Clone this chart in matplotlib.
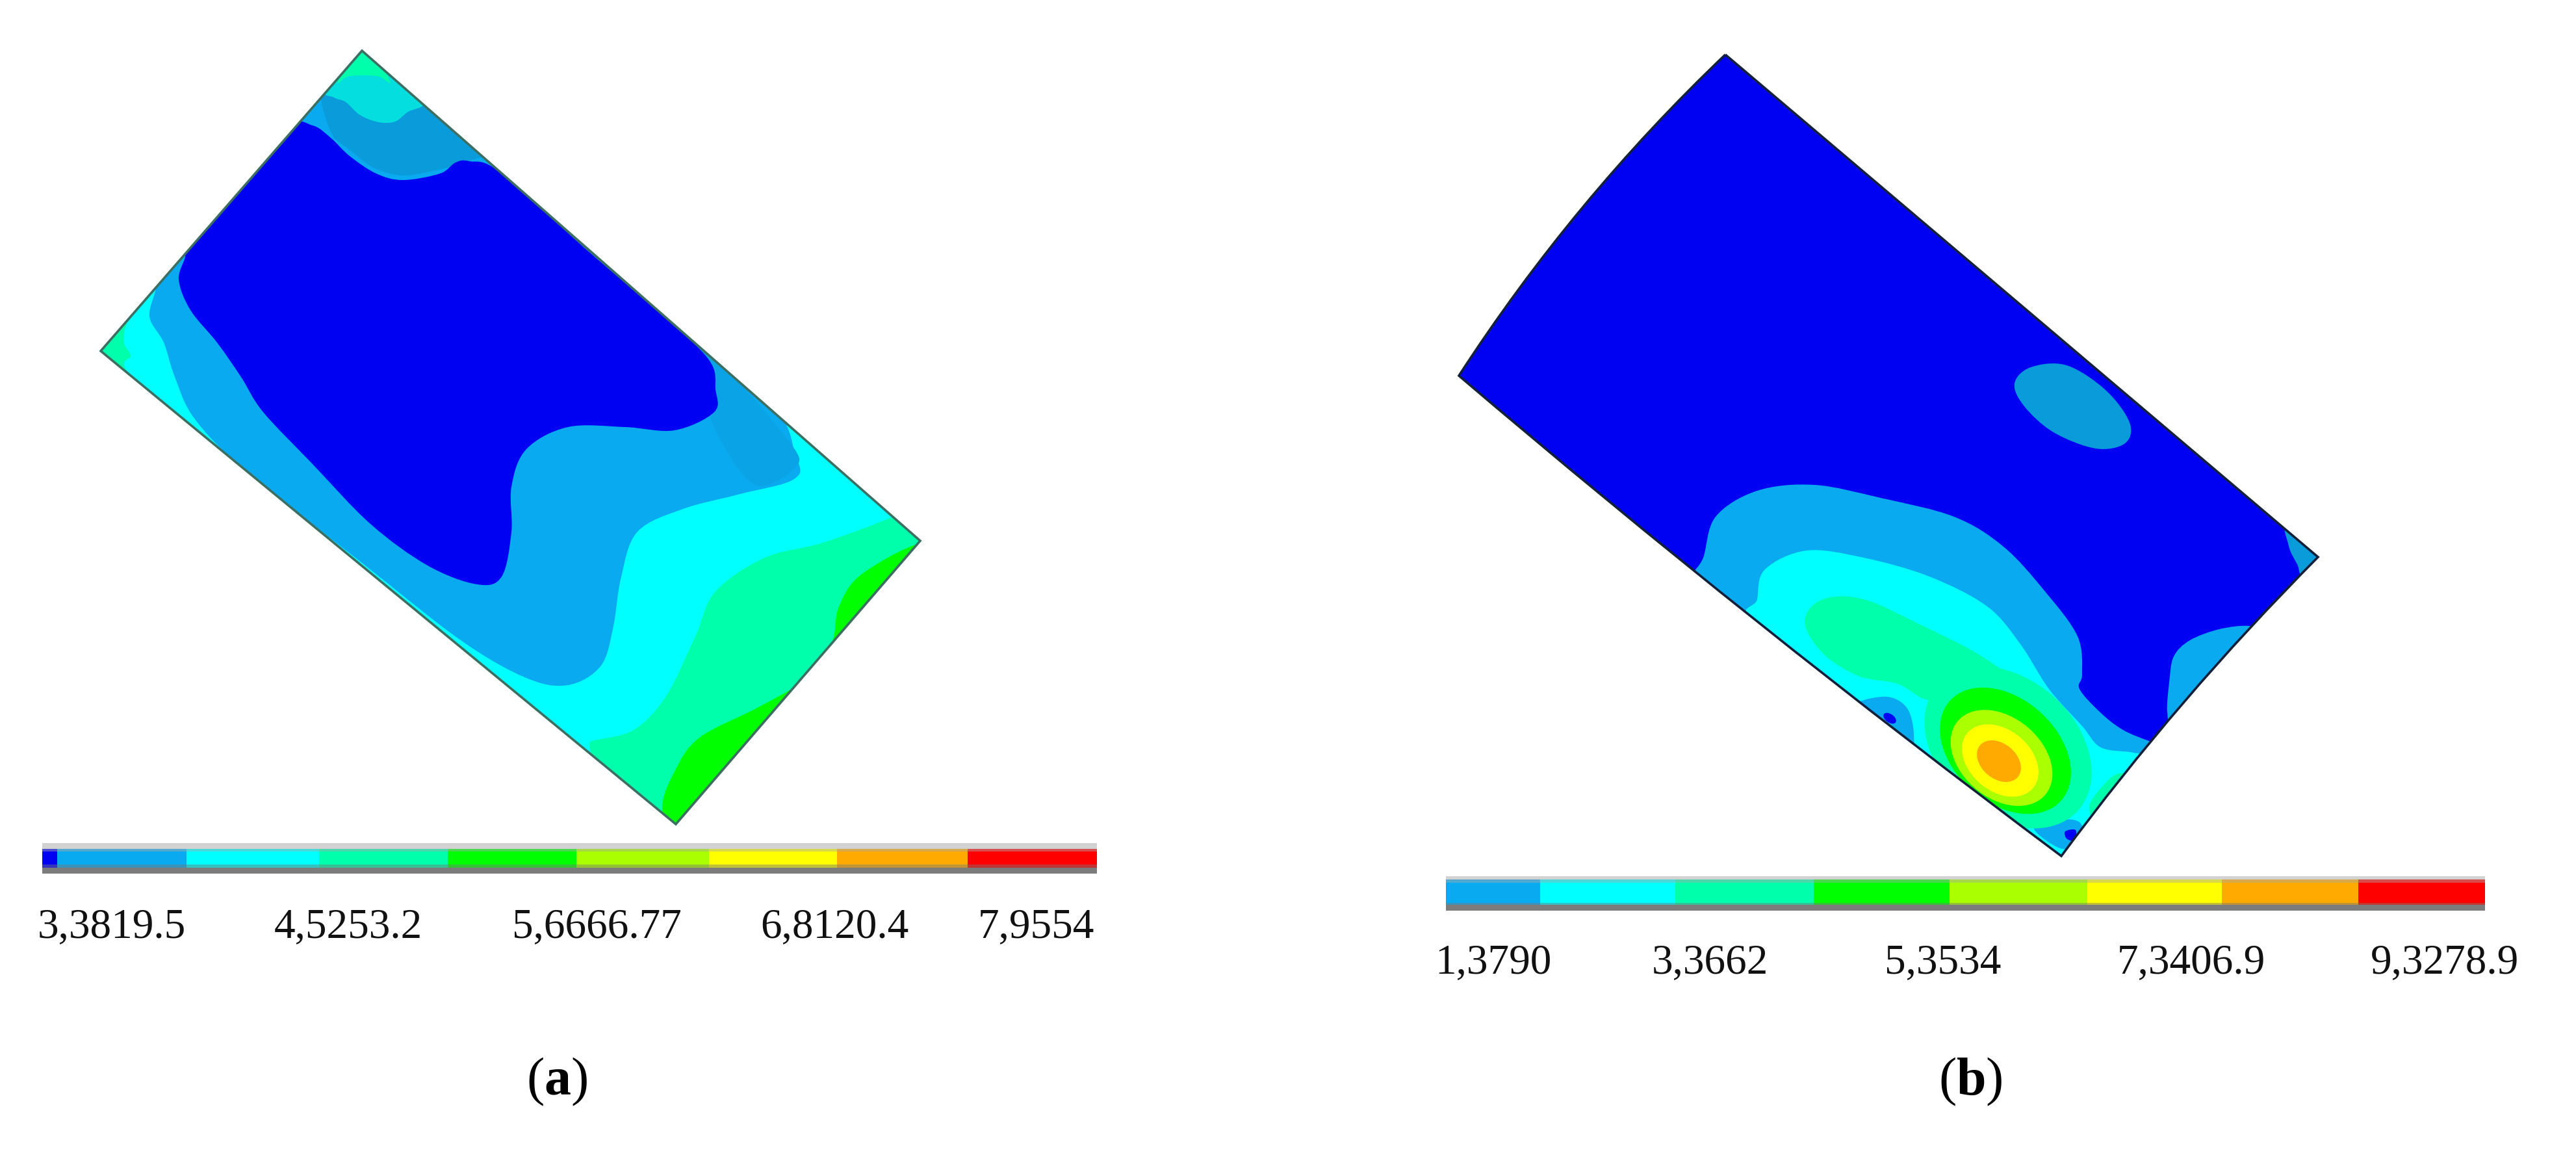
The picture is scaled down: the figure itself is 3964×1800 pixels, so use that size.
import matplotlib
matplotlib.use("Agg")
import matplotlib.pyplot as plt
from matplotlib.path import Path
from matplotlib.patches import PathPatch, Ellipse

plt.rcParams['font.family'] = ['Liberation Serif', 'DejaVu Serif']
plt.rcParams['mathtext.fontset'] = 'custom'
plt.rcParams['mathtext.bf'] = 'Liberation Serif:bold'
plt.rcParams['mathtext.rm'] = 'Liberation Serif'

# contour band colours
DEEP = '#0000F2'; BLUE = '#0AAAF0'; BLUE2 = '#0A9CDA'; BLUE3 = '#0AA3E5'; CYAN = '#00FFFF'; CYAN2 = '#04DEDE'; TEAL = '#00FFAA'
GREEN = '#00FF00'; LIME = '#AAFF00'; YELLOW = '#FFFF00'; ORANGE = '#FFAA00'; RED = '#FF0000'
scale_colors_a = [DEEP, BLUE, CYAN, TEAL, GREEN, LIME, YELLOW, ORANGE, RED]
scale_colors_b = [BLUE, CYAN, TEAL, GREEN, LIME, YELLOW, ORANGE, RED]

# colour scale boundaries
scale_edges_a = [65, 88, 287, 491, 689, 887, 1091, 1288, 1489, 1688]
scale_edges_b = [2225, 2370, 2578, 2791, 3000, 3212, 3419, 3629, 3824]

# scale labels
labels_a = ['3,3819.5', '4,5253.2', '5,6666.77', '6,8120.4', '7,9554']
label_x_a = [58, 422, 788, 1170, 1505]
labels_b = ['1,3790', '3,3662', '5,3534', '7,3406.9', '9,3278.9']
label_x_b = [2208, 2542, 2900, 3258, 3648]

# panel (a) plate and contour outlines
plate_a = [(557, 78), (1416, 832), (1040, 1268), (155, 540)]
a_cyan = [(197, 493), (191, 527), (201, 547), (197, 573), (300, 680), (700, 1000), (890, 1150), (911, 1140), (975, 1123), (1025, 1071),
          (1070, 979), (1101, 910), (1177, 858), (1266, 835), (1374, 795), (1390, 780), (1000, 440), (660, 130), (400, 230), (240, 410)]
a_blue = [(485, 140), (514, 150), (532, 157), (554, 177), (583, 188), (608, 187), (628, 172), (652, 160), (670, 150), (900, 360), (1170, 600),
          (1224, 700), (1222, 737), (1139, 760), (1051, 783), (981, 818), (956, 887), (943, 968), (924, 1025), (874, 1054), (810, 1043),
          (709, 985), (557, 866), (380, 726), (300, 645), (269, 580), (252, 527), (230, 487), (240, 440), (225, 420), (350, 280)]
a_blue_top = [(495, 145), (535, 150), (600, 160), (655, 150), (750, 225), (715, 250), (670, 262), (620, 270),
              (575, 258), (535, 228), (510, 205)]
a_blue_side = [(1089, 540), (1215, 680), (1222, 720), (1160, 745), (1100, 660), (1089, 600)]
a_top_lobe = [(514, 150), (532, 157), (554, 177), (583, 188), (608, 187), (628, 172), (652, 160), (640, 130), (557, 60), (500, 135)]
a_tip = [(520, 125), (538, 117), (580, 117), (600, 125), (557, 60)]
a_deep = [(440, 195), (481, 193), (510, 213), (538, 240), (579, 267), (620, 277), (677, 267), (701, 250), (722, 248), (770, 265), (900, 382),
          (1000, 468), (1089, 551), (1101, 599), (1099, 634), (1038, 662), (962, 657), (874, 657), (810, 691), (787, 749), (787, 818), (772, 887),
          (734, 899), (658, 870), (570, 806), (481, 714), (405, 634), (371, 580), (334, 527), (293, 477), (275, 430), (285, 393), (270, 385), (350, 290)]
a_green = [(1431, 835), (1329, 881), (1291, 933), (1279, 991), (1234, 1048), (1165, 1089), (1076, 1135), (1038, 1187), (1019, 1244),
           (1038, 1302), (1230, 1100), (1456, 910)]

# panel (b) plate corners, and the control point of each curved side
b_top = (2655, 84); b_right = (3567, 857); b_bottom = (3172, 1317); b_left = (2245, 578)
b_ctrl_short = (3352, 1073); b_ctrl_lower = (2696, 962); b_ctrl_left = (2421, 307)
# panel (b) contour outlines
b_oval = [(3100, 590), (3125, 565), (3180, 562), (3240, 600), (3277, 650), (3270, 682), (3225, 690), (3160, 665), (3115, 625)]
b_corner = [(3520, 800), (3522, 840), (3535, 868), (3548, 890), (3600, 857)]
b_patch = [(3460, 963), (3415, 968), (3370, 985), (3345, 1010), (3338, 1050), (3335, 1095), (3345, 1110), (3400, 1060), (3480, 975)]
b_blue = [(2621, 858), (2640, 795), (2704, 755), (2792, 746), (2894, 766), (3007, 795), (3083, 841), (3147, 910), (3197, 979), (3204, 1037),
          (3200, 1060), (3233, 1097), (3267, 1123), (3307, 1140), (3340, 1150), (3300, 1250), (3172, 1340), (2900, 1130), (2625, 900), (2605, 885)]
b_cyan = [(2704, 922), (2716, 876), (2780, 847), (2868, 858), (2969, 887), (3058, 933), (3109, 991), (3153, 1060), (3204, 1117), (3233, 1150),
          (3283, 1158), (3310, 1170), (3260, 1260), (3172, 1340), (2900, 1130), (2700, 965)]
b_teal = [(2777, 956), (2805, 922), (2868, 922), (2957, 962), (3050, 1010), (3117, 1065), (3090, 1100), (3000, 1080), (2960, 1075), (2920, 1052),
          (2860, 1040), (2805, 1005)]
b_small = [(2860, 1080), (2905, 1072), (2935, 1090), (2945, 1130), (2935, 1155), (2860, 1095)]
b_edge_green = [(3215, 1240), (3235, 1210), (3260, 1190), (3285, 1200), (3230, 1260)]
b_tip = [(3130, 1275), (3160, 1262), (3200, 1265), (3205, 1300), (3170, 1305)]
b_tip_deep = [(3178, 1279), (3194, 1277), (3192, 1293), (3180, 1290)]
# hot spot rings: colour, centre x, centre y, width, height, angle
ring_cols = [TEAL, GREEN, LIME, YELLOW, ORANGE]
ring_cx = [3090, 3086, 3080, 3078, 3076]
ring_cy = [1150, 1155, 1166, 1170, 1171]
ring_w = [290, 230, 176, 132, 76]
ring_h = [210, 160, 124, 94, 54]
ring_ang = [42, 42, 40, 40, 40]
# deepest spot on the lower side
dot_xy = (2908, 1105); dot_w = 22; dot_h = 13


def blob(points):
    n = len(points)
    verts = [points[0]]
    codes = [Path.MOVETO]
    for i in range(n):
        p0, p1, p2, p3 = points[i - 1], points[i], points[(i + 1) % n], points[(i + 2) % n]
        verts += [(p1[0] + (p2[0] - p0[0]) / 6, p1[1] + (p2[1] - p0[1]) / 6),
                  (p2[0] - (p3[0] - p1[0]) / 6, p2[1] - (p3[1] - p1[1]) / 6), p2]
        codes += [Path.CURVE4] * 3
    return Path(verts, codes)


fig = plt.figure(figsize=(39.64, 18), dpi=100, facecolor='white')
ax = fig.add_axes([0, 0, 1, 1])
ax.set_xlim(0, 3964)
ax.set_ylim(1800, 0)
ax.axis('off')


def plate(path, base, edge, lw):
    back = PathPatch(path, facecolor=base, edgecolor='none', zorder=1)
    ax.add_patch(back)
    ax.add_patch(PathPatch(path, facecolor='none', edgecolor=edge, lw=lw, zorder=6, joinstyle='miter'))
    return back


def region(pts, color, clip):
    p = PathPatch(blob(pts), facecolor=color, edgecolor='none', zorder=2)
    ax.add_patch(p)
    p.set_clip_path(clip)


clip_a = plate(Path(plate_a + [plate_a[0]], closed=True), TEAL, '#3C6E62', 2.6)
region(a_cyan, CYAN, clip_a)
region(a_blue, BLUE, clip_a)
region(a_blue_top, BLUE2, clip_a)
region(a_blue_side, BLUE3, clip_a)
region(a_top_lobe, CYAN2, clip_a)
region(a_tip, TEAL, clip_a)
region(a_deep, DEEP, clip_a)
region(a_green, GREEN, clip_a)

path_b = Path([b_top, b_right, b_ctrl_short, b_bottom, b_ctrl_lower, b_left, b_ctrl_left, b_top],
              [Path.MOVETO, Path.LINETO, Path.CURVE3, Path.CURVE3, Path.CURVE3, Path.CURVE3, Path.CURVE3, Path.CURVE3])
clip_b = plate(path_b, DEEP, '#14203A', 2.6)
region(b_oval, BLUE2, clip_b)
region(b_corner, BLUE2, clip_b)
region(b_patch, BLUE, clip_b)
region(b_blue, BLUE, clip_b)
region(b_cyan, CYAN, clip_b)
region(b_teal, TEAL, clip_b)
region(b_small, BLUE, clip_b)
region(b_edge_green, TEAL, clip_b)
region(b_tip, BLUE, clip_b)
region(b_tip_deep, DEEP, clip_b)
dot = Ellipse(dot_xy, dot_w, dot_h, angle=35, facecolor=DEEP, edgecolor='none', zorder=3)
ax.add_patch(dot)
dot.set_clip_path(clip_b)
for c, x, y, w, h, ang in zip(ring_cols, ring_cx, ring_cy, ring_w, ring_h, ring_ang):
    e = Ellipse((x, y), w, h, angle=ang, facecolor=c, edgecolor='none', zorder=3)
    ax.add_patch(e)
    e.set_clip_path(clip_b)


def scale_bar(edges, colors, grey_top, col_top, col_bot, grey_bot, tint):
    left, right = edges[0], edges[-1]
    ax.bar(edges[:-1], col_bot - col_top, width=[b - a for a, b in zip(edges[:-1], edges[1:])], bottom=col_top,
           align='edge', color=colors, zorder=3)
    ax.bar(left, col_top - grey_top, width=right - left, bottom=grey_top, align='edge', color='#D2D2D2', zorder=3)
    ax.bar(left, grey_bot - col_bot, width=right - left, bottom=col_bot, align='edge', color='#7C7C7C', zorder=3)
    ax.bar(left, tint[0], width=right - left, bottom=col_top, align='edge', color='#AAAAAA', alpha=0.45, zorder=4)
    ax.bar(left, tint[1], width=right - left, bottom=col_bot - tint[1], align='edge', color='#777777', alpha=0.45, zorder=4)


scale_bar(scale_edges_a, scale_colors_a, 1297, 1306, 1335, 1344, (4, 5))
scale_bar(scale_edges_b, scale_colors_b, 1348, 1353, 1392, 1401, (5, 3))

for s, x in zip(labels_a, label_x_a):
    ax.text(x, 1442, s, fontsize=47, ha='left', va='baseline', color='#111111')
for s, x in zip(labels_b, label_x_b):
    ax.text(x, 1497, s, fontsize=47, ha='left', va='baseline', color='#111111')

ax.text(857, 1684, r'($\mathbf{a}$)', fontsize=59, ha='center', va='baseline', color='black')
ax.text(3032, 1684, r'($\mathbf{b}$)', fontsize=59, ha='center', va='baseline', color='black')

fig.savefig('out.png', dpi=100, facecolor='white')
